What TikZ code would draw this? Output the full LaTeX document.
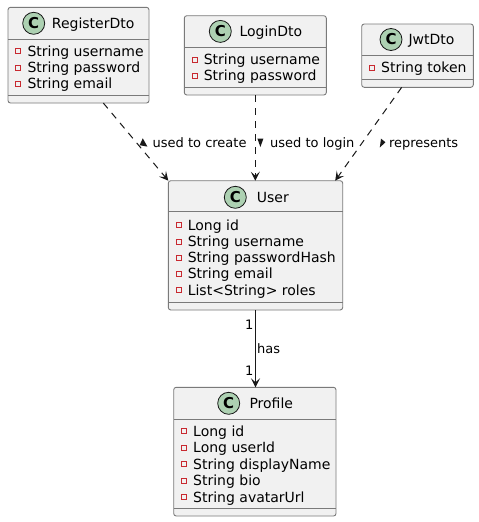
\documentclass[tikz,border=0pt]{standalone}
\usepackage{fontspec}
\setmainfont{DejaVu Sans}
\usetikzlibrary{arrows.meta,fit}
\definecolor{boxfill}{HTML}{F1F1F1}
\definecolor{boxline}{HTML}{7A7A7A}
\definecolor{iconfill}{HTML}{ADD1B2}
\definecolor{ink}{HTML}{181818}
\definecolor{privred}{HTML}{C82930}
\newcommand\attrrow[4]{%
  \draw[privmark] (#2+7.7,#3-2.2) rectangle (#2+12.7,#3+2.8);
  \node[attrtext] (#1) at (#2+19.3,#3+5.3) {#4};}
\newcommand\seps[3]{% box, header sep y, attr sep y
  \draw[sepline] (#1.west |- 0,#2) -- (#1.east |- 0,#2);
  \draw[sepline] (#1.west |- 0,#3) -- (#1.east |- 0,#3);}
\begin{document}
\begin{tikzpicture}[x=1pt,y=-1pt,
  classbox/.style={draw=boxline, fill=boxfill, rounded corners=2.5pt, line width=0.9pt, inner sep=0pt, outer sep=0pt},
  sepline/.style={draw=boxline, line width=0.9pt},
  icon/.style={circle, draw=ink, fill=iconfill, line width=0.8pt, minimum size=22pt, inner sep=0pt, font=\fontsize{15}{15}\selectfont\bfseries},
  clsname/.style={anchor=base west, inner sep=0pt, font=\fontsize{14}{16}\selectfont},
  attrtext/.style={anchor=base west, inner sep=0pt, font=\fontsize{14}{16}\selectfont},
  privmark/.style={draw=privred, line width=0.9pt},
  dep/.style={draw=ink, line width=1pt, dash pattern=on 7pt off 6pt, -{Stealth[length=9pt,width=9pt,inset=4pt]}},
  assoc/.style={draw=ink, line width=1pt, -{Stealth[length=9pt,width=9pt,inset=4pt]}},
  lbl/.style={inner sep=0pt, font=\fontsize{13}{15}\selectfont},
  tri/.style={fill=ink}]
\fill[white] (0,0) rectangle (479,522);
\useasboundingbox (0,0) rectangle (479,522);

% RegisterDto
\node[classbox, fit={(8,7.3) (149,103)}] (reg) {};
\seps{reg}{39}{95.7}
\node[icon] (regC) at (33.7,23.3) {C};
\node[clsname] (regN) at (51.7,28.6) {RegisterDto};
\attrrow{reg1}{8}{51}{String username}
\attrrow{reg2}{8}{67.2}{String password}
\attrrow{reg3}{8}{83.4}{String email}

% LoginDto
\node[classbox, fit={(184.3,15.7) (326.3,95)}] (login) {};
\seps{login}{47.3}{87.3}
\node[icon] (loginC) at (220.3,31.4) {C};
\node[clsname] (loginN) at (239.3,36.7) {LoginDto};
\attrrow{login1}{184.3}{59.3}{String username}
\attrrow{login2}{184.3}{75.5}{String password}

% JwtDto
\node[classbox, fit={(361.7,24) (473.3,87.3)}] (jwt) {};
\seps{jwt}{55.3}{79.3}
\node[icon] (jwtC) at (391,39.5) {C};
\node[clsname] (jwtN) at (408.3,44.8) {JwtDto};
\attrrow{jwt1}{361.7}{67.3}{String token}

% User
\node[classbox, fit={(168.3,180.7) (342.7,310)}] (user) {};
\seps{user}{211.7}{302.3}
\node[icon] (userC) at (235.3,197.3) {C};
\node[clsname] (userN) at (256.7,202.6) {User};
\attrrow{user1}{168.3}{225}{Long id}
\attrrow{user2}{168.3}{241.2}{String username}
\attrrow{user3}{168.3}{257.4}{String passwordHash}
\attrrow{user4}{168.3}{273.6}{String email}
\attrrow{user5}{168.3}{289.8}{List<String> roles}

% Profile
\node[classbox, fit={(173.7,387.3) (336,516)}] (profile) {};
\seps{profile}{419.3}{508.3}
\node[icon] (profC) at (228.7,403.3) {C};
\node[clsname] (profN) at (249.3,408.6) {Profile};
\attrrow{prof1}{173.7}{430.7}{Long id}
\attrrow{prof2}{173.7}{447.3}{Long userId}
\attrrow{prof3}{173.7}{463.9}{String displayName}
\attrrow{prof4}{173.7}{480.5}{String bio}
\attrrow{prof5}{173.7}{497.1}{String avatarUrl}

% connectors
\draw[dep] ([xshift=24.8pt]reg.south) -- (user.north west);
\draw[dep] (login.south) -- (login.south |- user.north);
\draw[dep] ([xshift=-15.8pt]jwt.south) -- ([xshift=-7.5pt]user.north east);
\draw[assoc] (user.south) -- (user.south |- profile.north);

% labels
\fill[tri] (142.8,138.3) -- (139.6,145.2) -- (147.4,146.6) -- cycle;
\node[lbl, anchor=base west] (l1) at (152.5,147) {used to create};
\fill[tri] (257.4,138.6) -- (263.4,138.6) -- (260.4,147) -- cycle;
\node[lbl, anchor=base west] (l2) at (270,147) {used to login};
\fill[tri] (381,138.7) -- (385.4,142.2) -- (379.8,147.6) -- cycle;
\node[lbl, anchor=base west] (l3) at (388.8,147) {represents};
\node[lbl, anchor=base east] (m1) at (253.6,329.8) {1};
\node[lbl, anchor=base west] (l4) at (257,353.3) {has};
\node[lbl, anchor=base east] (m2) at (253.6,375.4) {1};
\end{tikzpicture}
\end{document}
